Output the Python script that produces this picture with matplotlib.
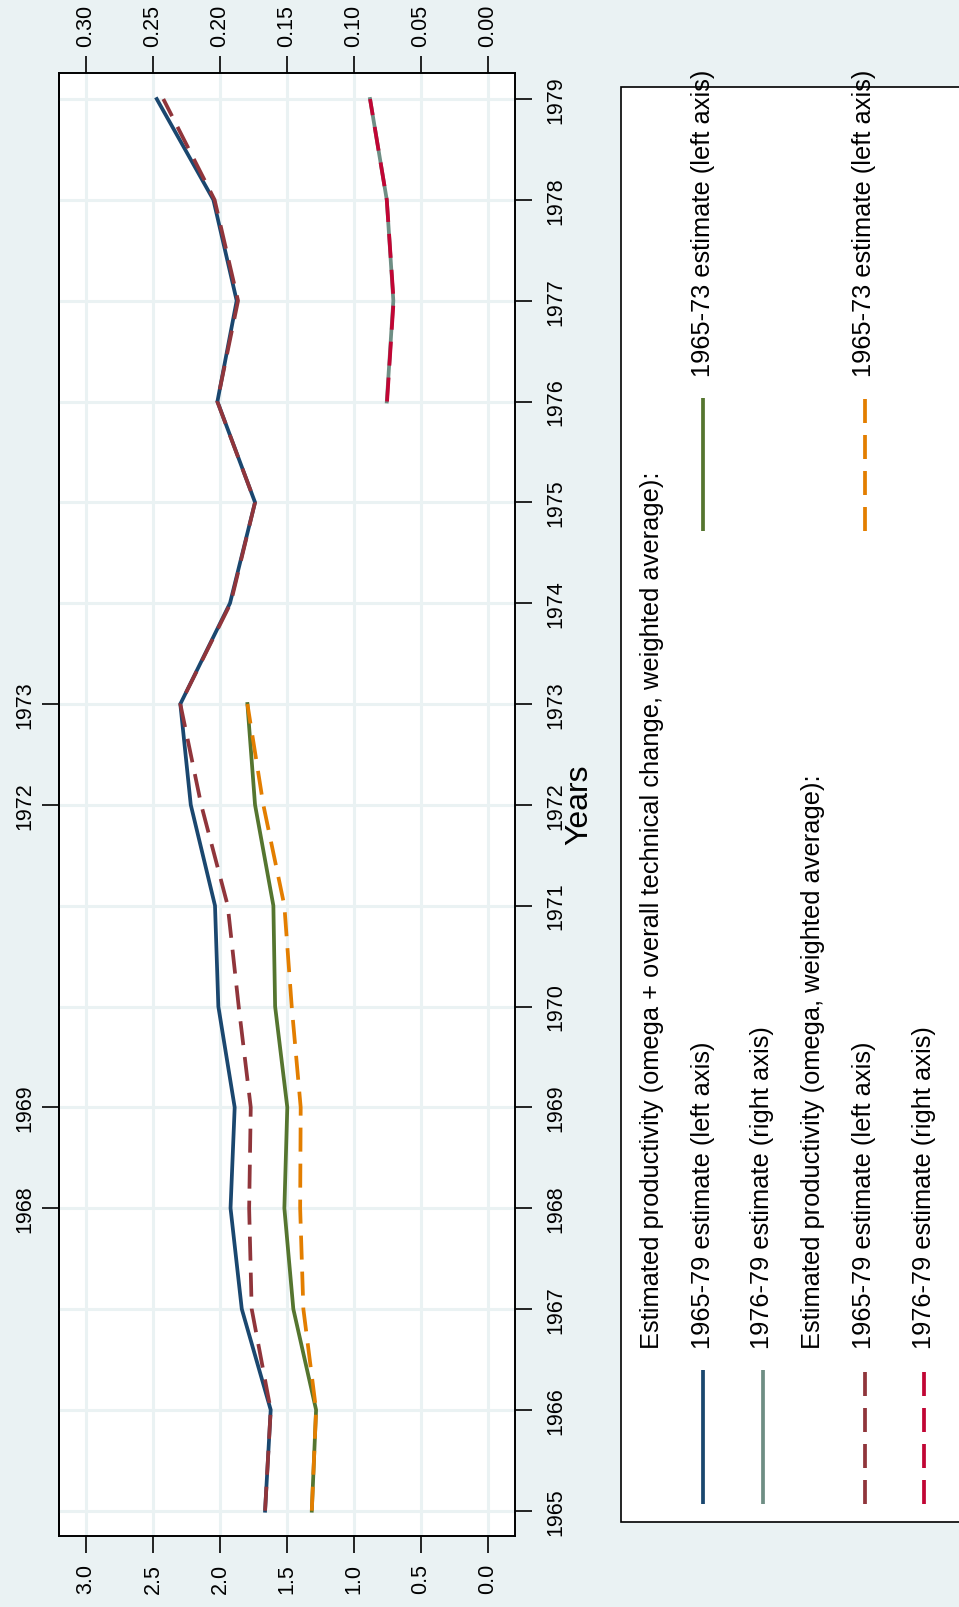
import matplotlib
matplotlib.use("Agg")
import matplotlib.pyplot as plt
from matplotlib.lines import Line2D
from matplotlib.patches import Rectangle

plt.rcParams["font.family"] = ["Liberation Sans", "DejaVu Sans"]

# ---- data -------------------------------------------------------------
years = list(range(1965, 1980))
years_6573 = list(range(1965, 1974))
years_7679 = list(range(1976, 1980))

# omega + overall technical change, weighted average
tfp_tc_6579 = [1.663, 1.621, 1.837, 1.921, 1.890, 2.012, 2.037, 2.218,
               2.296, 1.925, 1.738, 2.019, 1.875, 2.049, 2.472]
tfp_tc_6573 = [1.314, 1.282, 1.452, 1.519, 1.497, 1.588, 1.601, 1.738, 1.795]
tfp_tc_7679 = [0.0754, 0.0705, 0.0754, 0.0879]          # right axis

# omega, weighted average
omega_6579 = [1.663, 1.621, 1.763, 1.782, 1.770, 1.860, 1.942, 2.140,
              2.296, 1.920, 1.738, 2.020, 1.865, 2.040, 2.423]
omega_6573 = [1.314, 1.282, 1.377, 1.401, 1.397, 1.464, 1.519, 1.676, 1.795]
omega_7679 = [0.0752, 0.0703, 0.0754, 0.0879]           # right axis

left_ticks = [0.0, 0.5, 1.0, 1.5, 2.0, 2.5, 3.0]
left_labels = ["0.0", "0.5", "1.0", "1.5", "2.0", "2.5", "3.0"]
right_ticks = [0.00, 0.05, 0.10, 0.15, 0.20, 0.25, 0.30]
right_labels = ["0.00", "0.05", "0.10", "0.15", "0.20", "0.25", "0.30"]
extra_year_ticks = [1968, 1969, 1972, 1973]

heading_1 = "Estimated productivity (omega + overall technical change, weighted average):"
heading_2 = "Estimated productivity (omega, weighted average):"
lab_6579_left = "1965-79 estimate (left axis)"
lab_7679_right = "1976-79 estimate (right axis)"
lab_6573_left = "1965-73 estimate (left axis)"

# ---- style ------------------------------------------------------------
BG = "#EAF2F3"
GRID = "#EAF2F3"
NAVY = "#1A476F"
MAROON = "#90353B"
FOREST = "#55752F"
DKORANGE = "#E37E00"
TEAL = "#6E8E84"
CRANBERRY = "#C10534"
LW = 2.7
DASH = (0, (6.4, 3.2))
TICK_FS = 15.5
LEG_FS = 18.3

W, H = 959, 1608
fig = plt.figure(figsize=(W / 100, H / 100), dpi=100, facecolor=BG)


def fx(px):
    return px / W


def fy(py):
    return 1 - py / H


ax = fig.add_axes([fx(59.3), fy(1537.3), (514.5 - 59.3) / W, (1537.3 - 74) / H])
ax.set_facecolor("white")
ax.set_xlim(3.2, -0.2)
ax.set_ylim(1964.746, 1979.258)
ax.set_axisbelow(True)
ax.grid(True, color=GRID, linewidth=2.2)

# left-axis series (value axis drawn along the bottom edge)
ax.plot(tfp_tc_6579, years, color=NAVY, lw=LW, solid_joinstyle="miter")
ax.plot(omega_6579, years, color=MAROON, lw=LW, linestyle=DASH)
ax.plot(tfp_tc_6573, years_6573, color=FOREST, lw=LW, solid_joinstyle="miter")
ax.plot(omega_6573, years_6573, color=DKORANGE, lw=LW, linestyle=DASH)

ax.set_xticks(left_ticks)
ax.set_xticklabels(left_labels)
ax.tick_params(axis="x", bottom=True, top=False, labelbottom=True,
               length=12.2, width=1.2, pad=7, labelsize=TICK_FS,
               labelrotation=90)

ax.set_yticks(years)
ax.set_yticklabels([str(y) for y in years])
ax.yaxis.tick_right()
ax.tick_params(axis="y", right=True, left=False, labelright=True,
               labelleft=False, length=12.2, width=1.2, pad=10,
               labelsize=TICK_FS, labelrotation=90)
for t in ax.get_yticklabels():
    t.set_va("center")
for s in ax.spines.values():
    s.set_linewidth(1.2)

# right-axis series (value axis drawn along the top edge)
ax2 = ax.twiny()
ax2.set_xlim(0.32, -0.02)
ax2.plot(tfp_tc_7679, years_7679, color=TEAL, lw=LW, solid_joinstyle="miter")
ax2.plot(omega_7679, years_7679, color=CRANBERRY, lw=LW, linestyle=DASH)
ax2.set_xticks(right_ticks)
ax2.set_xticklabels(right_labels)
ax2.tick_params(axis="x", top=True, bottom=False, labeltop=True,
                labelbottom=False, length=12.2, width=1.2, pad=7,
                labelsize=TICK_FS, labelrotation=90)
for s in ax2.spines.values():
    s.set_linewidth(1.2)

# secondary year axis on the opposite edge
sec = ax.secondary_yaxis("left")
sec.set_yticks(extra_year_ticks)
sec.set_yticklabels([str(y) for y in extra_year_ticks])
sec.tick_params(length=12.2, width=1.2, pad=5, labelsize=TICK_FS,
                labelrotation=90)
for t in sec.get_yticklabels():
    t.set_va("center")
sec.spines["left"].set_linewidth(1.2)

fig.text(fx(579), fy(805), "Years", rotation=90, ha="center", va="center",
         fontsize=23)

# ---- legend (rotated with the chart) -------------------------------------
box = Rectangle((fx(621), fy(1522.7)), (1010 - 621) / W, (1522.7 - 88.3) / H,
                transform=fig.transFigure, facecolor="white",
                edgecolor="black", linewidth=1.2, zorder=1)
fig.add_artist(box)


def key(x, y_top, y_bot, color, style):
    fig.add_artist(Line2D([fx(x), fx(x)], [fy(y_bot), fy(y_top)],
                          transform=fig.transFigure, color=color, lw=LW,
                          linestyle=style, solid_capstyle="butt",
                          dash_capstyle="butt", zorder=2))


def label(x, y_start, text):
    fig.text(fx(x), fy(y_start), text, rotation=90, rotation_mode="anchor",
             ha="left", va="baseline", fontsize=LEG_FS, zorder=3)


label(659, 1349, heading_1)
key(703.3, 1371, 1504.6, NAVY, "-")
label(710, 1349, lab_6579_left)
key(762.7, 1371, 1504.6, TEAL, "-")
label(769, 1349, lab_7679_right)
label(820, 1349, heading_2)
key(865, 1371, 1504.6, MAROON, DASH)
label(871.5, 1349, lab_6579_left)
key(924.3, 1371, 1504.6, CRANBERRY, DASH)
label(931.5, 1349, lab_7679_right)

key(703.3, 399, 532, FOREST, "-")
label(710, 377, lab_6573_left)
key(865, 399, 532, DKORANGE, DASH)
label(871.5, 377, lab_6573_left)

fig.savefig("out.png", dpi=100, facecolor=BG)
